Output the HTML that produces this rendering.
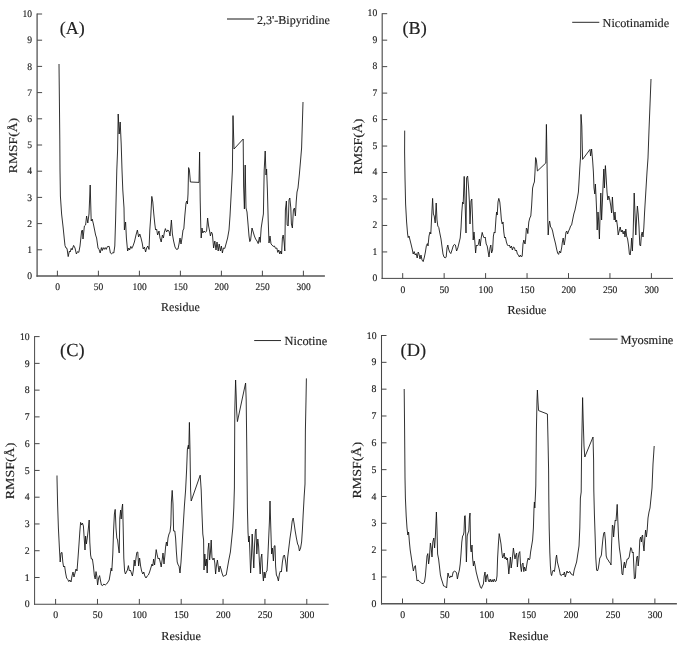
<!DOCTYPE html>
<html><head><meta charset="utf-8"><title>RMSF</title>
<style>html,body{margin:0;padding:0;background:#fff}svg{display:block}text{text-rendering:geometricPrecision;font-family:"Liberation Serif","Times New Roman",serif;fill:#222;stroke:#222;stroke-width:0.15px}</style></head><body>
<svg width="685" height="649" viewBox="0 0 685 649">
<rect width="685" height="649" fill="#fff"/>
<g><path d="M37.1,13.5V276.65" fill="none" stroke="#555" stroke-width="1.3"/>
<path d="M36.45,276.0H324.9" fill="none" stroke="#555" stroke-width="1.3"/>
<path d="M37.1,249.80h5M37.1,223.60h5M37.1,197.40h5M37.1,171.20h5M37.1,145.00h5M37.1,118.80h5M37.1,92.60h5M37.1,66.40h5M37.1,40.20h5M37.1,14.00h5M57.40,276.0v-5.3M98.40,276.0v-5.3M139.40,276.0v-5.3M180.40,276.0v-5.3M221.40,276.0v-5.3M262.40,276.0v-5.3M303.40,276.0v-5.3" fill="none" stroke="#484848" stroke-width="1"/>
<text x="32.1" y="279.10" font-size="10.00" text-anchor="end" textLength="4.8" lengthAdjust="spacingAndGlyphs" stroke-width="0.12">0</text>
<text x="32.1" y="252.90" font-size="10.00" text-anchor="end" textLength="4.8" lengthAdjust="spacingAndGlyphs" stroke-width="0.12">1</text>
<text x="32.1" y="226.70" font-size="10.00" text-anchor="end" textLength="4.8" lengthAdjust="spacingAndGlyphs" stroke-width="0.12">2</text>
<text x="32.1" y="200.50" font-size="10.00" text-anchor="end" textLength="4.8" lengthAdjust="spacingAndGlyphs" stroke-width="0.12">3</text>
<text x="32.1" y="174.30" font-size="10.00" text-anchor="end" textLength="4.8" lengthAdjust="spacingAndGlyphs" stroke-width="0.12">4</text>
<text x="32.1" y="148.10" font-size="10.00" text-anchor="end" textLength="4.8" lengthAdjust="spacingAndGlyphs" stroke-width="0.12">5</text>
<text x="32.1" y="121.90" font-size="10.00" text-anchor="end" textLength="4.8" lengthAdjust="spacingAndGlyphs" stroke-width="0.12">6</text>
<text x="32.1" y="95.70" font-size="10.00" text-anchor="end" textLength="4.8" lengthAdjust="spacingAndGlyphs" stroke-width="0.12">7</text>
<text x="32.1" y="69.50" font-size="10.00" text-anchor="end" textLength="4.8" lengthAdjust="spacingAndGlyphs" stroke-width="0.12">8</text>
<text x="32.1" y="43.30" font-size="10.00" text-anchor="end" textLength="4.8" lengthAdjust="spacingAndGlyphs" stroke-width="0.12">9</text>
<text x="32.1" y="17.10" font-size="10.00" text-anchor="end" textLength="9.5" lengthAdjust="spacingAndGlyphs" stroke-width="0.12">10</text>
<text x="57.60" y="290.00" font-size="10.00" text-anchor="middle" textLength="4.8" lengthAdjust="spacingAndGlyphs" stroke-width="0.12">0</text>
<text x="98.60" y="290.00" font-size="10.00" text-anchor="middle" textLength="9.5" lengthAdjust="spacingAndGlyphs" stroke-width="0.12">50</text>
<text x="139.60" y="290.00" font-size="10.00" text-anchor="middle" textLength="14.2" lengthAdjust="spacingAndGlyphs" stroke-width="0.12">100</text>
<text x="180.60" y="290.00" font-size="10.00" text-anchor="middle" textLength="14.2" lengthAdjust="spacingAndGlyphs" stroke-width="0.12">150</text>
<text x="221.60" y="290.00" font-size="10.00" text-anchor="middle" textLength="14.2" lengthAdjust="spacingAndGlyphs" stroke-width="0.12">200</text>
<text x="262.60" y="290.00" font-size="10.00" text-anchor="middle" textLength="14.2" lengthAdjust="spacingAndGlyphs" stroke-width="0.12">250</text>
<text x="303.60" y="290.00" font-size="10.00" text-anchor="middle" textLength="14.2" lengthAdjust="spacingAndGlyphs" stroke-width="0.12">300</text>
<text x="180.4" y="311.2" font-size="12.00" text-anchor="middle">Residue</text>
<text transform="translate(17.2,173.2) rotate(-90)" font-size="12.00" textLength="55.3" lengthAdjust="spacingAndGlyphs">RMSF(Å)</text>
<path d="M227.0,19.0H254.0" stroke="#2a2a2a" stroke-width="1.1" fill="none"/>
<text x="256.9" y="24.0" font-size="12.10">2,3'-Bipyridine</text>
<text x="59.8" y="33.9" font-size="18.00" fill="#111" stroke="#111">(A)</text>
<path d="M59.0,64.0 L59.4,100.0 L59.8,140.0 L60.0,170.0 L60.4,196.0 L61.6,214.0 L63.2,228.0 L64.4,240.0 L65.0,245.6 L66.0,248.0 L67.0,248.4 L68.2,256.6 L69.4,251.0 L70.2,252.0 L71.2,248.4 L72.0,250.0 L73.6,245.4 L75.0,248.0 L76.4,254.0 L77.6,251.6 L78.8,252.4 L80.0,246.0 L81.6,231.0 L82.4,230.0 L83.0,239.0 L84.4,226.0 L85.6,225.0 L86.6,216.0 L87.8,223.0 L89.0,214.0 L90.2,185.0 L91.2,221.0 L92.2,219.0 L93.4,224.0 L94.4,229.0 L95.6,235.0 L96.6,238.0 L98.0,248.0 L99.0,249.4 L100.2,253.0 L101.4,247.6 L102.2,250.6 L103.2,247.6 L104.2,249.4 L105.2,247.6 L106.2,249.4 L107.4,246.6 L109.2,246.4 L110.4,253.0 L111.6,254.0 L112.8,252.4 L113.8,253.0 L114.8,246.0 L115.6,220.0 L116.8,170.0 L117.6,150.0 L118.2,114.0 L119.2,134.0 L120.2,122.0 L121.2,144.0 L122.0,170.0 L122.8,190.0 L124.0,208.0 L124.4,230.0 L125.6,222.0 L126.4,238.0 L127.6,251.0 L128.8,248.0 L129.6,250.0 L130.8,246.4 L131.8,248.4 L133.0,246.0 L134.4,242.0 L136.0,235.0 L137.4,230.0 L138.6,237.0 L139.8,234.0 L141.0,238.0 L142.2,243.0 L143.2,249.0 L144.4,247.0 L145.6,252.0 L146.6,248.0 L147.8,246.0 L149.0,249.4 L149.8,230.0 L150.8,216.0 L151.8,196.4 L152.8,202.0 L153.8,214.0 L154.8,224.0 L155.6,230.0 L156.6,229.0 L157.6,235.0 L159.0,231.0 L160.0,238.0 L161.2,242.0 L162.4,235.0 L163.4,238.0 L164.4,232.0 L165.4,228.6 L166.6,232.0 L167.8,230.0 L169.0,231.0 L170.0,236.0 L171.4,220.0 L172.4,234.0 L173.6,241.0 L175.0,247.0 L176.4,249.4 L178.0,249.0 L179.0,244.0 L180.0,238.0 L181.0,244.0 L182.0,238.0 L183.0,230.0 L183.8,229.0 L184.8,216.0 L186.0,203.0 L186.8,201.0 L187.4,204.0 L188.0,194.0 L188.6,167.6 L189.4,170.0 L190.4,182.0 L199.0,182.4 L199.6,152.0 L200.2,200.0 L200.8,228.0 L201.2,238.0 L202.0,228.0 L202.8,233.0 L204.0,231.0 L205.4,232.4 L206.6,231.0 L207.6,218.0 L208.6,226.0 L209.6,231.0 L210.4,236.0 L211.4,232.0 L212.4,234.0 L213.6,248.0 L214.8,241.0 L216.0,250.0 L217.0,242.0 L218.2,251.0 L219.2,244.0 L220.4,251.0 L221.4,246.0 L222.4,253.0 L223.4,248.0 L224.8,248.4 L226.0,244.0 L227.6,238.0 L229.0,230.0 L230.0,216.0 L231.4,190.0 L232.4,170.0 L233.0,115.6 L234.0,149.0 L243.2,139.0 L243.6,186.0 L244.4,209.0 L245.2,165.0 L246.0,208.0 L247.0,212.0 L248.2,226.0 L249.0,236.0 L249.8,241.6 L250.6,240.0 L252.0,228.0 L253.2,232.0 L254.4,236.0 L255.6,239.0 L257.0,241.0 L258.2,243.6 L259.4,237.0 L260.2,242.4 L261.2,228.0 L262.4,220.0 L263.4,214.0 L264.2,170.0 L265.2,151.0 L266.0,175.0 L266.6,169.0 L267.4,190.0 L268.2,220.0 L269.0,243.0 L270.0,236.0 L271.0,244.0 L272.0,245.0 L273.2,246.4 L274.4,246.0 L275.6,248.4 L276.8,248.0 L277.8,252.4 L278.8,250.0 L279.8,254.0 L280.8,251.0 L281.6,254.0 L282.4,238.0 L283.2,235.0 L284.2,243.0 L284.8,251.0 L285.4,210.0 L286.4,201.0 L287.2,225.0 L288.2,226.0 L289.0,200.0 L289.8,198.0 L290.8,208.0 L291.4,224.0 L292.4,228.0 L293.4,210.0 L294.4,208.0 L295.4,216.0 L296.2,202.0 L297.0,192.0 L298.0,188.0 L299.4,174.0 L300.6,160.0 L301.6,148.0 L303.0,102.0" fill="none" stroke="#141414" stroke-width="0.88" stroke-linejoin="round"/></g>
<g><path d="M382.2,13.2V278.90" fill="none" stroke="#555" stroke-width="1.2"/>
<path d="M381.60,278.4H673.0" fill="none" stroke="#484848" stroke-width="1.0"/>
<path d="M382.2,251.93h5M382.2,225.46h5M382.2,198.99h5M382.2,172.52h5M382.2,146.05h5M382.2,119.58h5M382.2,93.11h5M382.2,66.64h5M382.2,40.17h5M382.2,13.70h5M402.70,278.4v-5.3M444.15,278.4v-5.3M485.60,278.4v-5.3M527.05,278.4v-5.3M568.50,278.4v-5.3M609.95,278.4v-5.3M651.40,278.4v-5.3" fill="none" stroke="#484848" stroke-width="1"/>
<text x="377.2" y="281.10" font-size="10.10" text-anchor="end" textLength="4.8" lengthAdjust="spacingAndGlyphs" stroke-width="0.12">0</text>
<text x="377.2" y="254.63" font-size="10.10" text-anchor="end" textLength="4.8" lengthAdjust="spacingAndGlyphs" stroke-width="0.12">1</text>
<text x="377.2" y="228.16" font-size="10.10" text-anchor="end" textLength="4.8" lengthAdjust="spacingAndGlyphs" stroke-width="0.12">2</text>
<text x="377.2" y="201.69" font-size="10.10" text-anchor="end" textLength="4.8" lengthAdjust="spacingAndGlyphs" stroke-width="0.12">3</text>
<text x="377.2" y="175.22" font-size="10.10" text-anchor="end" textLength="4.8" lengthAdjust="spacingAndGlyphs" stroke-width="0.12">4</text>
<text x="377.2" y="148.75" font-size="10.10" text-anchor="end" textLength="4.8" lengthAdjust="spacingAndGlyphs" stroke-width="0.12">5</text>
<text x="377.2" y="122.28" font-size="10.10" text-anchor="end" textLength="4.8" lengthAdjust="spacingAndGlyphs" stroke-width="0.12">6</text>
<text x="377.2" y="95.81" font-size="10.10" text-anchor="end" textLength="4.8" lengthAdjust="spacingAndGlyphs" stroke-width="0.12">7</text>
<text x="377.2" y="69.34" font-size="10.10" text-anchor="end" textLength="4.8" lengthAdjust="spacingAndGlyphs" stroke-width="0.12">8</text>
<text x="377.2" y="42.87" font-size="10.10" text-anchor="end" textLength="4.8" lengthAdjust="spacingAndGlyphs" stroke-width="0.12">9</text>
<text x="377.2" y="16.40" font-size="10.10" text-anchor="end" textLength="9.6" lengthAdjust="spacingAndGlyphs" stroke-width="0.12">10</text>
<text x="402.90" y="292.90" font-size="10.10" text-anchor="middle" textLength="4.8" lengthAdjust="spacingAndGlyphs" stroke-width="0.12">0</text>
<text x="444.35" y="292.90" font-size="10.10" text-anchor="middle" textLength="9.6" lengthAdjust="spacingAndGlyphs" stroke-width="0.12">50</text>
<text x="485.80" y="292.90" font-size="10.10" text-anchor="middle" textLength="14.4" lengthAdjust="spacingAndGlyphs" stroke-width="0.12">100</text>
<text x="527.25" y="292.90" font-size="10.10" text-anchor="middle" textLength="14.4" lengthAdjust="spacingAndGlyphs" stroke-width="0.12">150</text>
<text x="568.70" y="292.90" font-size="10.10" text-anchor="middle" textLength="14.4" lengthAdjust="spacingAndGlyphs" stroke-width="0.12">200</text>
<text x="610.15" y="292.90" font-size="10.10" text-anchor="middle" textLength="14.4" lengthAdjust="spacingAndGlyphs" stroke-width="0.12">250</text>
<text x="651.60" y="292.90" font-size="10.10" text-anchor="middle" textLength="14.4" lengthAdjust="spacingAndGlyphs" stroke-width="0.12">300</text>
<text x="527.0" y="314.0" font-size="12.12" text-anchor="middle">Residue</text>
<text transform="translate(362.1,174.5) rotate(-90)" font-size="12.12" textLength="55.9" lengthAdjust="spacingAndGlyphs">RMSF(Å)</text>
<path d="M572.2,22.3H599.3" stroke="#2a2a2a" stroke-width="1.0" fill="none"/>
<text x="602.6" y="26.7" font-size="12.22">Nicotinamide</text>
<text x="402.5" y="33.8" font-size="18.19" fill="#111" stroke="#111">(B)</text>
<path d="M404.7,130.6 L404.6,152.0 L405.0,178.0 L405.6,204.0 L406.6,222.0 L407.6,234.0 L408.2,237.6 L409.0,236.0 L410.0,240.0 L411.0,244.0 L412.2,249.0 L413.2,254.0 L414.2,251.6 L415.2,255.0 L416.2,253.6 L417.2,258.0 L418.2,252.0 L419.0,254.0 L420.0,259.0 L421.0,255.0 L422.0,260.0 L423.2,261.6 L424.4,257.0 L425.4,252.0 L426.4,245.6 L427.4,243.6 L428.0,246.0 L429.0,236.0 L430.0,232.0 L430.8,234.0 L431.6,218.0 L432.6,198.4 L433.4,214.0 L434.2,216.0 L435.2,223.0 L436.2,203.0 L437.0,220.0 L437.8,226.0 L438.8,227.6 L439.8,233.0 L441.0,239.0 L442.2,248.0 L443.0,254.0 L444.0,257.0 L445.2,258.0 L446.2,257.0 L447.0,248.0 L447.8,245.0 L448.6,249.0 L449.6,252.0 L450.8,253.6 L452.0,250.0 L453.2,246.0 L454.4,244.4 L455.4,245.0 L456.6,251.0 L457.8,248.0 L459.0,243.0 L460.2,238.0 L461.0,228.0 L461.8,212.0 L462.6,202.0 L463.2,204.0 L464.2,176.4 L465.0,200.0 L466.0,233.0 L466.6,178.0 L467.6,176.0 L468.6,188.0 L469.4,202.0 L470.0,224.0 L471.0,201.0 L471.8,199.0 L472.6,220.0 L473.2,240.0 L474.0,232.0 L474.8,241.0 L475.6,253.0 L476.4,245.0 L477.4,246.0 L478.4,244.4 L479.4,239.0 L480.2,246.0 L481.2,238.0 L482.2,232.4 L483.2,236.0 L484.2,238.0 L485.2,237.0 L486.2,244.0 L487.2,246.0 L488.2,252.0 L489.0,257.0 L490.0,248.0 L490.8,245.0 L491.6,253.0 L492.6,250.0 L493.4,236.0 L494.2,232.0 L495.0,233.0 L496.0,218.0 L496.6,212.0 L497.2,215.0 L498.0,202.0 L498.8,198.4 L499.8,202.0 L500.6,210.0 L501.4,220.0 L502.2,224.0 L503.0,222.0 L503.8,232.0 L504.6,238.0 L505.4,237.0 L506.4,242.0 L507.4,245.0 L508.4,246.0 L509.4,245.0 L510.4,248.0 L511.4,246.0 L512.4,250.0 L513.4,247.0 L514.4,247.6 L515.4,251.0 L516.4,250.0 L517.4,254.0 L518.4,255.0 L519.4,257.0 L520.4,255.0 L521.4,257.0 L522.2,256.0 L523.0,244.0 L523.8,240.0 L525.0,244.0 L525.6,240.0 L526.4,228.0 L527.2,229.0 L527.8,233.6 L528.8,222.0 L529.8,218.0 L530.8,216.0 L531.6,206.0 L532.6,188.0 L533.6,184.0 L534.4,182.0 L535.0,172.0 L535.6,157.6 L536.4,160.0 L537.4,171.0 L545.8,163.0 L546.4,124.4 L547.0,160.0 L547.4,192.0 L547.8,222.0 L548.2,235.0 L548.8,226.0 L549.6,221.0 L550.6,227.0 L551.6,228.0 L552.6,231.0 L553.6,236.0 L554.6,240.0 L555.6,244.0 L556.6,249.0 L557.6,253.0 L558.6,254.4 L559.6,251.0 L560.6,253.0 L561.6,248.0 L562.4,242.0 L563.2,238.0 L564.2,245.0 L565.0,240.0 L566.0,232.0 L566.8,231.0 L567.6,234.0 L568.6,231.0 L569.6,229.0 L570.6,226.0 L571.6,225.0 L572.6,220.0 L573.8,214.0 L575.0,210.0 L576.2,204.0 L577.4,198.0 L578.4,192.0 L579.0,182.0 L579.8,168.0 L580.6,156.0 L581.0,114.4 L581.8,126.0 L582.6,159.4 L590.0,149.4 L590.6,156.0 L591.6,149.0 L592.4,158.0 L592.6,160.0 L593.4,172.0 L594.0,188.0 L594.8,194.0 L595.4,184.0 L596.0,196.0 L596.6,210.0 L597.2,230.0 L598.0,212.0 L598.6,220.0 L599.4,239.0 L600.2,212.0 L600.8,193.0 L601.6,220.0 L602.4,202.0 L603.2,182.0 L603.8,169.0 L604.4,188.0 L605.4,165.6 L606.2,178.0 L607.0,192.0 L607.8,200.0 L608.8,196.0 L609.8,200.0 L610.8,206.0 L611.6,213.0 L612.4,197.0 L613.2,210.0 L614.2,220.0 L615.0,212.0 L615.8,222.0 L616.6,220.0 L617.4,226.0 L618.2,235.0 L619.2,231.0 L620.2,227.0 L621.2,232.0 L622.2,230.0 L623.2,234.0 L624.2,231.0 L625.0,237.0 L625.8,229.0 L626.6,236.0 L627.6,239.0 L628.6,246.0 L629.4,254.0 L630.2,255.0 L631.0,248.0 L631.6,238.0 L632.4,251.0 L633.2,232.0 L634.2,193.0 L635.0,214.0 L635.8,235.0 L636.6,218.0 L637.4,206.0 L638.2,214.0 L639.0,227.0 L639.8,245.0 L640.6,246.0 L641.4,235.0 L642.2,232.0 L643.0,237.0 L643.8,228.0 L644.6,212.0 L645.8,192.0 L647.0,172.0 L648.0,158.0 L649.0,130.0 L650.2,100.0 L651.0,79.0" fill="none" stroke="#141414" stroke-width="0.88" stroke-linejoin="round"/></g>
<g><path d="M34.6,336.1V604.75" fill="none" stroke="#484848" stroke-width="1.0"/>
<path d="M34.10,604.25H328.7" fill="none" stroke="#484848" stroke-width="1.0"/>
<path d="M34.6,577.49h5M34.6,550.72h5M34.6,523.96h5M34.6,497.19h5M34.6,470.43h5M34.6,443.66h5M34.6,416.89h5M34.6,390.13h5M34.6,363.37h5M34.6,336.60h5M55.60,604.25v-5.3M97.47,604.25v-5.3M139.33,604.25v-5.3M181.20,604.25v-5.3M223.06,604.25v-5.3M264.93,604.25v-5.3M306.79,604.25v-5.3" fill="none" stroke="#484848" stroke-width="1"/>
<text x="29.6" y="607.45" font-size="10.22" text-anchor="end" textLength="4.9" lengthAdjust="spacingAndGlyphs" stroke-width="0.12">0</text>
<text x="29.6" y="580.69" font-size="10.22" text-anchor="end" textLength="4.9" lengthAdjust="spacingAndGlyphs" stroke-width="0.12">1</text>
<text x="29.6" y="553.92" font-size="10.22" text-anchor="end" textLength="4.9" lengthAdjust="spacingAndGlyphs" stroke-width="0.12">2</text>
<text x="29.6" y="527.16" font-size="10.22" text-anchor="end" textLength="4.9" lengthAdjust="spacingAndGlyphs" stroke-width="0.12">3</text>
<text x="29.6" y="500.39" font-size="10.22" text-anchor="end" textLength="4.9" lengthAdjust="spacingAndGlyphs" stroke-width="0.12">4</text>
<text x="29.6" y="473.62" font-size="10.22" text-anchor="end" textLength="4.9" lengthAdjust="spacingAndGlyphs" stroke-width="0.12">5</text>
<text x="29.6" y="446.86" font-size="10.22" text-anchor="end" textLength="4.9" lengthAdjust="spacingAndGlyphs" stroke-width="0.12">6</text>
<text x="29.6" y="420.09" font-size="10.22" text-anchor="end" textLength="4.9" lengthAdjust="spacingAndGlyphs" stroke-width="0.12">7</text>
<text x="29.6" y="393.33" font-size="10.22" text-anchor="end" textLength="4.9" lengthAdjust="spacingAndGlyphs" stroke-width="0.12">8</text>
<text x="29.6" y="366.56" font-size="10.22" text-anchor="end" textLength="4.9" lengthAdjust="spacingAndGlyphs" stroke-width="0.12">9</text>
<text x="29.6" y="339.80" font-size="10.22" text-anchor="end" textLength="9.7" lengthAdjust="spacingAndGlyphs" stroke-width="0.12">10</text>
<text x="55.80" y="618.45" font-size="10.22" text-anchor="middle" textLength="4.9" lengthAdjust="spacingAndGlyphs" stroke-width="0.12">0</text>
<text x="97.67" y="618.45" font-size="10.22" text-anchor="middle" textLength="9.7" lengthAdjust="spacingAndGlyphs" stroke-width="0.12">50</text>
<text x="139.53" y="618.45" font-size="10.22" text-anchor="middle" textLength="14.6" lengthAdjust="spacingAndGlyphs" stroke-width="0.12">100</text>
<text x="181.40" y="618.45" font-size="10.22" text-anchor="middle" textLength="14.6" lengthAdjust="spacingAndGlyphs" stroke-width="0.12">150</text>
<text x="223.26" y="618.45" font-size="10.22" text-anchor="middle" textLength="14.6" lengthAdjust="spacingAndGlyphs" stroke-width="0.12">200</text>
<text x="265.12" y="618.45" font-size="10.22" text-anchor="middle" textLength="14.6" lengthAdjust="spacingAndGlyphs" stroke-width="0.12">250</text>
<text x="306.99" y="618.45" font-size="10.22" text-anchor="middle" textLength="14.6" lengthAdjust="spacingAndGlyphs" stroke-width="0.12">300</text>
<text x="181.1" y="640.2" font-size="12.26" text-anchor="middle">Residue</text>
<text transform="translate(14.3,499.2) rotate(-90)" font-size="12.26" textLength="56.5" lengthAdjust="spacingAndGlyphs">RMSF(Å)</text>
<path d="M254.2,340.55H281.0" stroke="#2a2a2a" stroke-width="1.0" fill="none"/>
<text x="284.6" y="345.1" font-size="12.36">Nicotine</text>
<text x="60.1" y="356.0" font-size="18.39" fill="#111" stroke="#111">(C)</text>
<path d="M57.0,475.5 L57.0,478.0 L57.6,504.0 L58.4,528.0 L59.4,548.0 L60.2,562.0 L61.0,553.0 L62.0,552.4 L62.8,562.0 L63.6,567.0 L64.6,566.0 L65.6,573.0 L66.6,578.0 L67.8,579.6 L68.8,581.6 L69.8,580.0 L71.0,582.0 L72.0,576.0 L73.0,572.0 L74.0,577.0 L75.0,573.0 L76.0,569.0 L77.0,571.0 L78.0,558.0 L79.0,544.0 L79.8,532.0 L80.6,522.4 L81.6,525.0 L82.4,523.0 L83.4,526.0 L84.2,538.0 L85.0,550.0 L85.6,536.0 L86.4,544.0 L87.4,537.0 L88.2,530.0 L89.2,520.0 L89.8,542.0 L90.6,555.0 L91.4,559.0 L92.4,559.0 L93.4,566.0 L94.4,576.0 L95.2,579.0 L96.0,571.6 L96.8,576.0 L97.6,585.0 L98.6,578.0 L99.6,575.6 L100.4,580.0 L101.4,585.0 L102.6,585.6 L103.8,584.0 L105.2,585.0 L106.6,584.0 L108.0,582.0 L109.2,580.0 L110.2,574.0 L111.2,568.0 L111.8,571.0 L112.8,554.0 L113.6,530.0 L114.4,514.0 L115.2,509.4 L116.0,528.0 L116.8,538.0 L117.6,540.0 L118.4,547.0 L119.2,553.0 L119.8,518.0 L120.6,510.0 L121.2,519.0 L122.0,508.0 L122.6,504.0 L123.2,528.0 L123.8,558.0 L124.6,571.0 L125.4,574.0 L126.4,572.0 L127.4,570.0 L128.4,565.6 L129.4,571.0 L130.4,570.0 L131.4,573.0 L132.4,576.0 L133.4,570.0 L134.2,560.0 L135.0,566.0 L136.0,558.0 L136.8,552.4 L137.8,552.0 L138.6,566.0 L139.6,558.0 L140.6,566.0 L141.6,571.0 L142.8,574.0 L143.8,572.0 L144.8,576.0 L146.0,578.0 L147.2,576.0 L148.4,575.0 L149.6,572.0 L150.8,568.0 L152.0,564.0 L152.8,566.0 L153.6,559.0 L154.6,565.0 L155.4,557.0 L156.2,549.6 L157.2,555.0 L158.2,559.0 L159.2,558.0 L160.2,562.0 L161.2,567.0 L162.0,561.0 L163.0,553.0 L164.0,564.0 L164.8,556.0 L165.6,547.0 L166.4,542.0 L167.2,546.0 L168.0,538.0 L169.0,534.0 L170.0,532.0 L170.8,525.0 L171.4,502.0 L172.2,490.4 L173.0,504.0 L173.6,531.0 L174.8,531.0 L175.6,538.0 L176.4,552.0 L177.2,562.0 L178.2,565.0 L179.0,566.0 L180.0,573.0 L181.0,562.0 L182.0,546.0 L183.2,526.0 L184.4,506.0 L185.6,490.0 L186.6,470.0 L187.4,449.0 L188.4,445.0 L188.8,449.0 L189.4,422.4 L190.0,450.0 L190.6,490.0 L191.2,501.0 L200.2,475.2 L201.2,490.0 L202.0,514.0 L202.8,534.0 L203.6,540.0 L204.0,570.0 L204.8,554.0 L205.6,566.0 L206.4,559.0 L207.2,573.0 L208.0,550.0 L208.8,543.0 L209.6,560.0 L210.4,553.0 L211.2,540.0 L212.0,558.0 L213.0,560.0 L214.0,558.0 L214.8,563.0 L215.6,574.0 L216.4,566.0 L217.4,560.0 L218.2,566.0 L219.0,572.0 L220.0,566.0 L221.0,569.0 L222.0,573.0 L223.2,576.4 L224.6,575.6 L226.2,575.0 L227.4,568.0 L228.8,560.0 L230.4,552.0 L231.6,540.0 L232.8,528.0 L233.8,508.0 L234.4,488.0 L234.8,410.0 L235.6,380.0 L236.2,396.0 L236.6,410.0 L237.4,421.6 L245.6,383.0 L246.2,400.0 L246.8,450.0 L247.4,508.0 L248.0,532.0 L248.6,542.0 L249.2,536.0 L249.8,550.0 L250.6,573.0 L251.4,558.0 L252.2,534.0 L253.0,552.0 L253.8,568.0 L254.6,544.0 L255.4,531.0 L256.0,529.0 L256.8,554.0 L257.8,539.0 L258.6,546.0 L259.4,562.0 L260.2,574.0 L261.0,558.0 L261.8,554.0 L262.6,572.0 L263.4,581.0 L264.2,572.0 L265.0,578.0 L266.0,572.0 L267.0,571.0 L267.8,558.0 L268.6,540.0 L269.4,522.0 L270.0,501.0 L270.8,528.0 L271.6,554.0 L272.4,548.0 L273.4,561.0 L274.2,546.0 L275.0,545.6 L275.6,566.0 L276.4,575.0 L277.4,577.0 L278.4,581.0 L279.4,574.0 L280.4,571.0 L281.4,572.0 L282.4,562.0 L283.4,556.0 L284.4,555.0 L285.4,560.0 L286.2,566.0 L286.8,571.6 L287.6,558.0 L288.8,548.0 L290.0,538.0 L291.2,530.0 L292.2,521.0 L293.2,518.0 L294.2,524.0 L295.2,531.0 L296.4,538.0 L297.6,544.0 L298.6,546.0 L299.4,551.0 L300.6,548.0 L301.6,542.0 L302.4,530.0 L303.2,514.0 L304.2,496.0 L305.0,484.0 L305.4,430.0 L306.0,400.0 L306.4,378.4" fill="none" stroke="#141414" stroke-width="0.88" stroke-linejoin="round"/></g>
<g><path d="M381.5,335.0V604.50" fill="none" stroke="#484848" stroke-width="1.05"/>
<path d="M380.98,603.8H676.9" fill="none" stroke="#555" stroke-width="1.4"/>
<path d="M381.5,576.97h5M381.5,550.14h5M381.5,523.31h5M381.5,496.48h5M381.5,469.65h5M381.5,442.82h5M381.5,415.99h5M381.5,389.16h5M381.5,362.33h5M381.5,335.50h5M402.50,603.8v-5.3M444.56,603.8v-5.3M486.63,603.8v-5.3M528.70,603.8v-5.3M570.76,603.8v-5.3M612.83,603.8v-5.3M654.89,603.8v-5.3" fill="none" stroke="#484848" stroke-width="1"/>
<text x="376.5" y="606.90" font-size="10.24" text-anchor="end" textLength="4.9" lengthAdjust="spacingAndGlyphs" stroke-width="0.12">0</text>
<text x="376.5" y="580.07" font-size="10.24" text-anchor="end" textLength="4.9" lengthAdjust="spacingAndGlyphs" stroke-width="0.12">1</text>
<text x="376.5" y="553.24" font-size="10.24" text-anchor="end" textLength="4.9" lengthAdjust="spacingAndGlyphs" stroke-width="0.12">2</text>
<text x="376.5" y="526.41" font-size="10.24" text-anchor="end" textLength="4.9" lengthAdjust="spacingAndGlyphs" stroke-width="0.12">3</text>
<text x="376.5" y="499.58" font-size="10.24" text-anchor="end" textLength="4.9" lengthAdjust="spacingAndGlyphs" stroke-width="0.12">4</text>
<text x="376.5" y="472.75" font-size="10.24" text-anchor="end" textLength="4.9" lengthAdjust="spacingAndGlyphs" stroke-width="0.12">5</text>
<text x="376.5" y="445.92" font-size="10.24" text-anchor="end" textLength="4.9" lengthAdjust="spacingAndGlyphs" stroke-width="0.12">6</text>
<text x="376.5" y="419.09" font-size="10.24" text-anchor="end" textLength="4.9" lengthAdjust="spacingAndGlyphs" stroke-width="0.12">7</text>
<text x="376.5" y="392.26" font-size="10.24" text-anchor="end" textLength="4.9" lengthAdjust="spacingAndGlyphs" stroke-width="0.12">8</text>
<text x="376.5" y="365.43" font-size="10.24" text-anchor="end" textLength="4.9" lengthAdjust="spacingAndGlyphs" stroke-width="0.12">9</text>
<text x="376.5" y="338.60" font-size="10.24" text-anchor="end" textLength="9.7" lengthAdjust="spacingAndGlyphs" stroke-width="0.12">10</text>
<text x="402.70" y="618.10" font-size="10.24" text-anchor="middle" textLength="4.9" lengthAdjust="spacingAndGlyphs" stroke-width="0.12">0</text>
<text x="444.76" y="618.10" font-size="10.24" text-anchor="middle" textLength="9.7" lengthAdjust="spacingAndGlyphs" stroke-width="0.12">50</text>
<text x="486.83" y="618.10" font-size="10.24" text-anchor="middle" textLength="14.6" lengthAdjust="spacingAndGlyphs" stroke-width="0.12">100</text>
<text x="528.90" y="618.10" font-size="10.24" text-anchor="middle" textLength="14.6" lengthAdjust="spacingAndGlyphs" stroke-width="0.12">150</text>
<text x="570.96" y="618.10" font-size="10.24" text-anchor="middle" textLength="14.6" lengthAdjust="spacingAndGlyphs" stroke-width="0.12">200</text>
<text x="613.03" y="618.10" font-size="10.24" text-anchor="middle" textLength="14.6" lengthAdjust="spacingAndGlyphs" stroke-width="0.12">250</text>
<text x="655.09" y="618.10" font-size="10.24" text-anchor="middle" textLength="14.6" lengthAdjust="spacingAndGlyphs" stroke-width="0.12">300</text>
<text x="528.6" y="639.8" font-size="12.29" text-anchor="middle">Residue</text>
<text transform="translate(361.1,498.5) rotate(-90)" font-size="12.29" textLength="56.6" lengthAdjust="spacingAndGlyphs">RMSF(Å)</text>
<path d="M589.6,339.1H617.6" stroke="#2a2a2a" stroke-width="1.0" fill="none"/>
<text x="620.4" y="343.7" font-size="12.39">Myosmine</text>
<text x="400.6" y="355.8" font-size="18.43" fill="#111" stroke="#111">(D)</text>
<path d="M404.2,389.0 L404.6,430.0 L405.0,478.0 L405.4,498.0 L406.2,516.0 L407.0,528.0 L407.8,535.0 L408.6,532.0 L409.4,542.0 L410.2,550.0 L411.4,558.0 L412.6,566.0 L413.4,571.0 L414.4,567.0 L415.4,565.6 L416.2,574.0 L417.0,581.0 L418.2,580.0 L419.4,581.6 L420.6,582.4 L421.8,583.4 L423.0,583.6 L424.4,582.4 L425.4,576.0 L426.2,566.0 L427.0,556.0 L427.8,553.6 L428.6,564.0 L429.4,558.0 L430.4,543.0 L431.2,548.0 L432.0,557.0 L432.8,542.0 L433.8,538.0 L434.6,548.0 L435.4,536.0 L436.4,512.0 L437.0,530.0 L437.6,554.0 L438.6,559.0 L439.4,566.0 L440.4,575.0 L441.4,579.0 L442.4,582.0 L443.6,586.0 L444.8,586.4 L445.8,587.0 L446.6,588.0 L447.4,578.0 L448.0,573.0 L448.8,576.0 L449.6,578.0 L450.8,576.0 L452.0,577.0 L453.2,572.0 L454.4,571.2 L455.6,571.6 L456.6,573.0 L457.4,579.0 L458.4,574.0 L459.4,570.0 L460.2,564.0 L461.0,554.0 L461.8,542.0 L462.6,536.0 L463.4,535.0 L464.0,532.0 L464.6,516.0 L465.2,515.6 L465.8,538.0 L466.4,562.0 L467.2,536.0 L468.0,533.0 L468.8,531.0 L469.4,518.0 L470.0,513.0 L470.6,548.0 L471.2,552.0 L472.0,545.0 L472.6,558.0 L473.4,566.0 L474.2,561.0 L475.2,566.0 L476.2,572.0 L477.2,576.0 L478.2,580.0 L479.2,583.0 L480.4,587.0 L481.4,588.4 L482.4,586.0 L483.4,584.0 L484.2,576.0 L485.0,572.0 L485.8,582.0 L486.6,576.0 L487.4,574.4 L488.2,580.0 L489.2,582.0 L490.2,579.0 L491.2,582.0 L492.2,579.6 L493.2,582.0 L494.2,579.0 L495.2,581.6 L496.2,581.0 L497.0,576.0 L497.6,558.0 L498.4,544.0 L499.2,533.6 L500.0,538.0 L501.0,544.0 L501.8,552.0 L502.6,558.0 L503.4,556.0 L504.2,553.0 L505.0,559.0 L505.8,557.0 L506.6,560.0 L507.4,558.0 L508.2,566.0 L508.8,574.0 L509.6,566.0 L510.4,557.0 L511.2,568.0 L512.0,562.0 L512.8,554.0 L513.4,548.0 L514.2,554.0 L515.0,559.0 L515.8,555.0 L516.6,553.0 L517.4,567.0 L518.2,558.0 L519.0,553.0 L519.8,551.6 L520.6,566.0 L521.4,571.6 L522.2,564.0 L523.0,563.0 L523.8,571.6 L524.6,567.0 L525.8,571.0 L526.6,566.0 L527.4,561.0 L528.2,558.0 L529.0,560.0 L529.8,559.0 L530.6,552.0 L531.6,546.0 L532.6,540.0 L533.4,528.0 L534.0,508.0 L534.4,502.0 L534.8,508.0 L535.2,500.0 L535.8,486.0 L536.4,430.0 L537.0,400.0 L537.4,390.0 L538.0,402.0 L538.6,410.6 L547.4,414.0 L548.0,440.0 L548.6,470.0 L548.8,498.0 L549.2,528.0 L549.8,552.0 L550.4,566.0 L551.0,573.6 L551.6,575.6 L552.4,572.0 L553.4,570.0 L554.4,571.6 L555.2,566.0 L556.0,558.0 L556.6,555.0 L557.4,562.0 L558.4,566.0 L559.4,570.0 L560.4,575.0 L561.4,575.6 L562.4,574.0 L563.4,575.0 L564.4,572.0 L565.2,577.0 L566.2,574.0 L567.0,571.0 L568.0,573.0 L569.0,572.0 L570.0,571.6 L571.0,574.0 L572.2,574.4 L573.2,575.6 L574.2,570.0 L575.4,566.0 L576.6,562.0 L577.8,554.0 L579.0,546.0 L579.8,528.0 L580.4,498.0 L581.2,492.0 L581.6,450.0 L582.2,420.0 L582.6,397.6 L583.2,420.0 L584.0,446.0 L584.8,457.0 L593.0,437.0 L593.6,460.0 L593.8,490.0 L594.4,514.0 L595.2,538.0 L595.8,558.0 L596.6,570.0 L597.4,571.0 L598.2,569.0 L599.0,564.0 L599.8,558.0 L600.6,557.0 L601.4,555.0 L602.2,546.0 L603.0,538.0 L603.8,533.0 L604.6,532.0 L605.4,540.0 L606.2,556.0 L607.2,559.0 L608.2,560.0 L609.2,562.0 L610.2,563.0 L611.0,565.0 L611.6,544.0 L612.4,525.0 L613.0,526.0 L613.6,537.0 L614.4,528.0 L615.2,520.0 L616.0,521.0 L616.6,513.0 L617.2,504.4 L617.8,520.0 L618.6,538.0 L619.4,548.0 L620.4,555.0 L621.2,562.0 L622.0,574.0 L622.8,575.0 L623.6,566.0 L624.4,562.0 L625.2,568.0 L626.2,563.0 L627.2,559.0 L628.2,559.0 L629.2,557.0 L630.0,552.0 L630.8,547.6 L631.6,549.0 L632.4,553.0 L633.2,552.0 L633.8,566.0 L634.4,579.0 L635.4,578.0 L636.0,566.0 L636.8,557.0 L637.6,556.0 L638.2,566.0 L639.0,558.0 L639.8,540.0 L640.6,537.0 L641.4,542.0 L642.0,536.0 L642.6,535.0 L643.2,544.0 L644.0,551.0 L644.8,538.0 L645.6,530.0 L646.4,537.0 L647.2,530.0 L648.0,518.0 L649.0,512.0 L650.0,508.0 L651.0,498.0 L652.0,488.0 L653.0,464.0 L654.2,446.0" fill="none" stroke="#141414" stroke-width="0.88" stroke-linejoin="round"/></g>
</svg></body></html>
